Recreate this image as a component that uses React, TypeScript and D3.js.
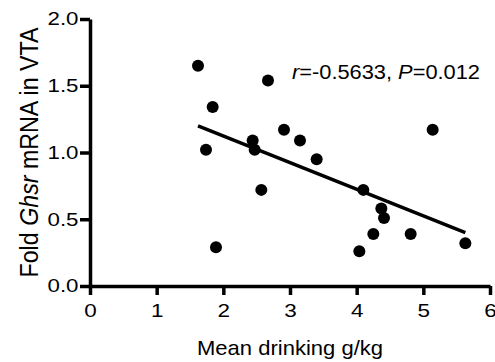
import { useEffect, useRef } from 'react';
import * as d3 from 'd3';

// drinking (g/kg) vs fold Ghsr mRNA
const drinking = [1.62, 1.84, 1.74, 1.89, 2.67, 2.44, 2.47, 2.91, 3.15, 3.40, 2.57, 4.10, 4.37, 4.41, 4.25, 4.81, 4.04, 5.63, 5.14];
const ghsr = [1.65, 1.34, 1.02, 0.29, 1.54, 1.09, 1.02, 1.17, 1.09, 0.95, 0.72, 0.72, 0.58, 0.51, 0.39, 0.39, 0.26, 0.32, 1.17];

// fitted line end points
const fitX = [1.62, 5.63];
const fitY = [1.20, 0.40];

const xTicks = [0, 1, 2, 3, 4, 5, 6];
const yTicks = [0, 0.5, 1.0, 1.5, 2.0];

const FONT = 'Liberation Sans, Arial, sans-serif';

const App = () => {
  const svgRef = useRef<SVGSVGElement>(null);

  useEffect(() => {
    const width = 495;
    const height = 362;

    const svg = d3.select(svgRef.current);
    svg.selectAll('*').remove();
    svg.attr('width', width).attr('height', height);

    const x = d3.scaleLinear().domain([0, 6]).range([90, 490]);
    const y = d3.scaleLinear().domain([0, 2]).range([286, 19]);

    // X axis
    const xAxis = svg.append('g')
      .attr('transform', `translate(0,${y(0)})`)
      .call(d3.axisBottom(x).tickValues(xTicks).tickFormat(d3.format('d')).tickSize(9).tickSizeOuter(0));
    xAxis.select('.domain').attr('stroke-width', 3.5);
    xAxis.selectAll('.tick line').attr('stroke-width', 3.5);
    xAxis.selectAll('text')
      .attr('y', 31)
      .attr('dy', 0)
      .attr('textLength', 12.5)
      .attr('lengthAdjust', 'spacingAndGlyphs')
      .style('font-family', FONT)
      .style('font-size', '18.6px')
      .attr('fill', '#000');

    // Y axis
    const yAxis = svg.append('g')
      .attr('transform', `translate(${x(0)},0)`)
      .call(d3.axisLeft(y).tickValues(yTicks).tickFormat(d3.format('.1f')).tickSize(10).tickSizeOuter(0).tickPadding(1.5));
    yAxis.select('.domain').attr('stroke-width', 3.5);
    yAxis.selectAll('.tick line').attr('stroke-width', 3.5);
    yAxis.selectAll('text')
      .attr('textLength', 31)
      .attr('lengthAdjust', 'spacingAndGlyphs')
      .style('font-family', FONT)
      .style('font-size', '18.6px')
      .attr('fill', '#000');

    // regression line
    const line = d3.line<number>()
      .x(d => x(fitX[d]))
      .y(d => y(fitY[d]));
    svg.append('path')
      .datum([0, 1])
      .attr('d', line)
      .attr('fill', 'none')
      .attr('stroke', '#000')
      .attr('stroke-width', 3.5);

    // points
    svg.selectAll('.dot')
      .data(drinking)
      .enter()
      .append('circle')
      .attr('cx', d => x(d))
      .attr('cy', (d, i) => y(ghsr[i]))
      .attr('r', 6)
      .attr('fill', '#000');

    // stats note
    const note = svg.append('text')
      .attr('x', 292)
      .attr('y', 79)
      .attr('textLength', 188)
      .attr('lengthAdjust', 'spacingAndGlyphs')
      .style('font-family', FONT)
      .style('font-size', '20px');
    note.append('tspan').attr('font-style', 'italic').text('r');
    note.append('tspan').text('=-0.5633, ');
    note.append('tspan').attr('font-style', 'italic').text('P');
    note.append('tspan').text('=0.012');

    // axis titles
    svg.append('text')
      .attr('x', 290)
      .attr('y', 355)
      .attr('text-anchor', 'middle')
      .attr('textLength', 186)
      .attr('lengthAdjust', 'spacingAndGlyphs')
      .style('font-family', FONT)
      .style('font-size', '21px')
      .text('Mean drinking g/kg');

    const yTitle = svg.append('text')
      .attr('transform', 'translate(38,152.5) rotate(-90) scale(1,1.2)')
      .attr('text-anchor', 'middle')
      .attr('textLength', 250)
      .attr('lengthAdjust', 'spacingAndGlyphs')
      .style('font-family', FONT)
      .style('font-size', '22px');
    yTitle.append('tspan').text('Fold ');
    yTitle.append('tspan').attr('font-style', 'italic').text('Ghsr');
    yTitle.append('tspan').text(' mRNA in VTA');
  }, []);

  return <svg ref={svgRef} style={{ position: 'absolute', left: 0, top: 0 }}></svg>;
};

export default App;
